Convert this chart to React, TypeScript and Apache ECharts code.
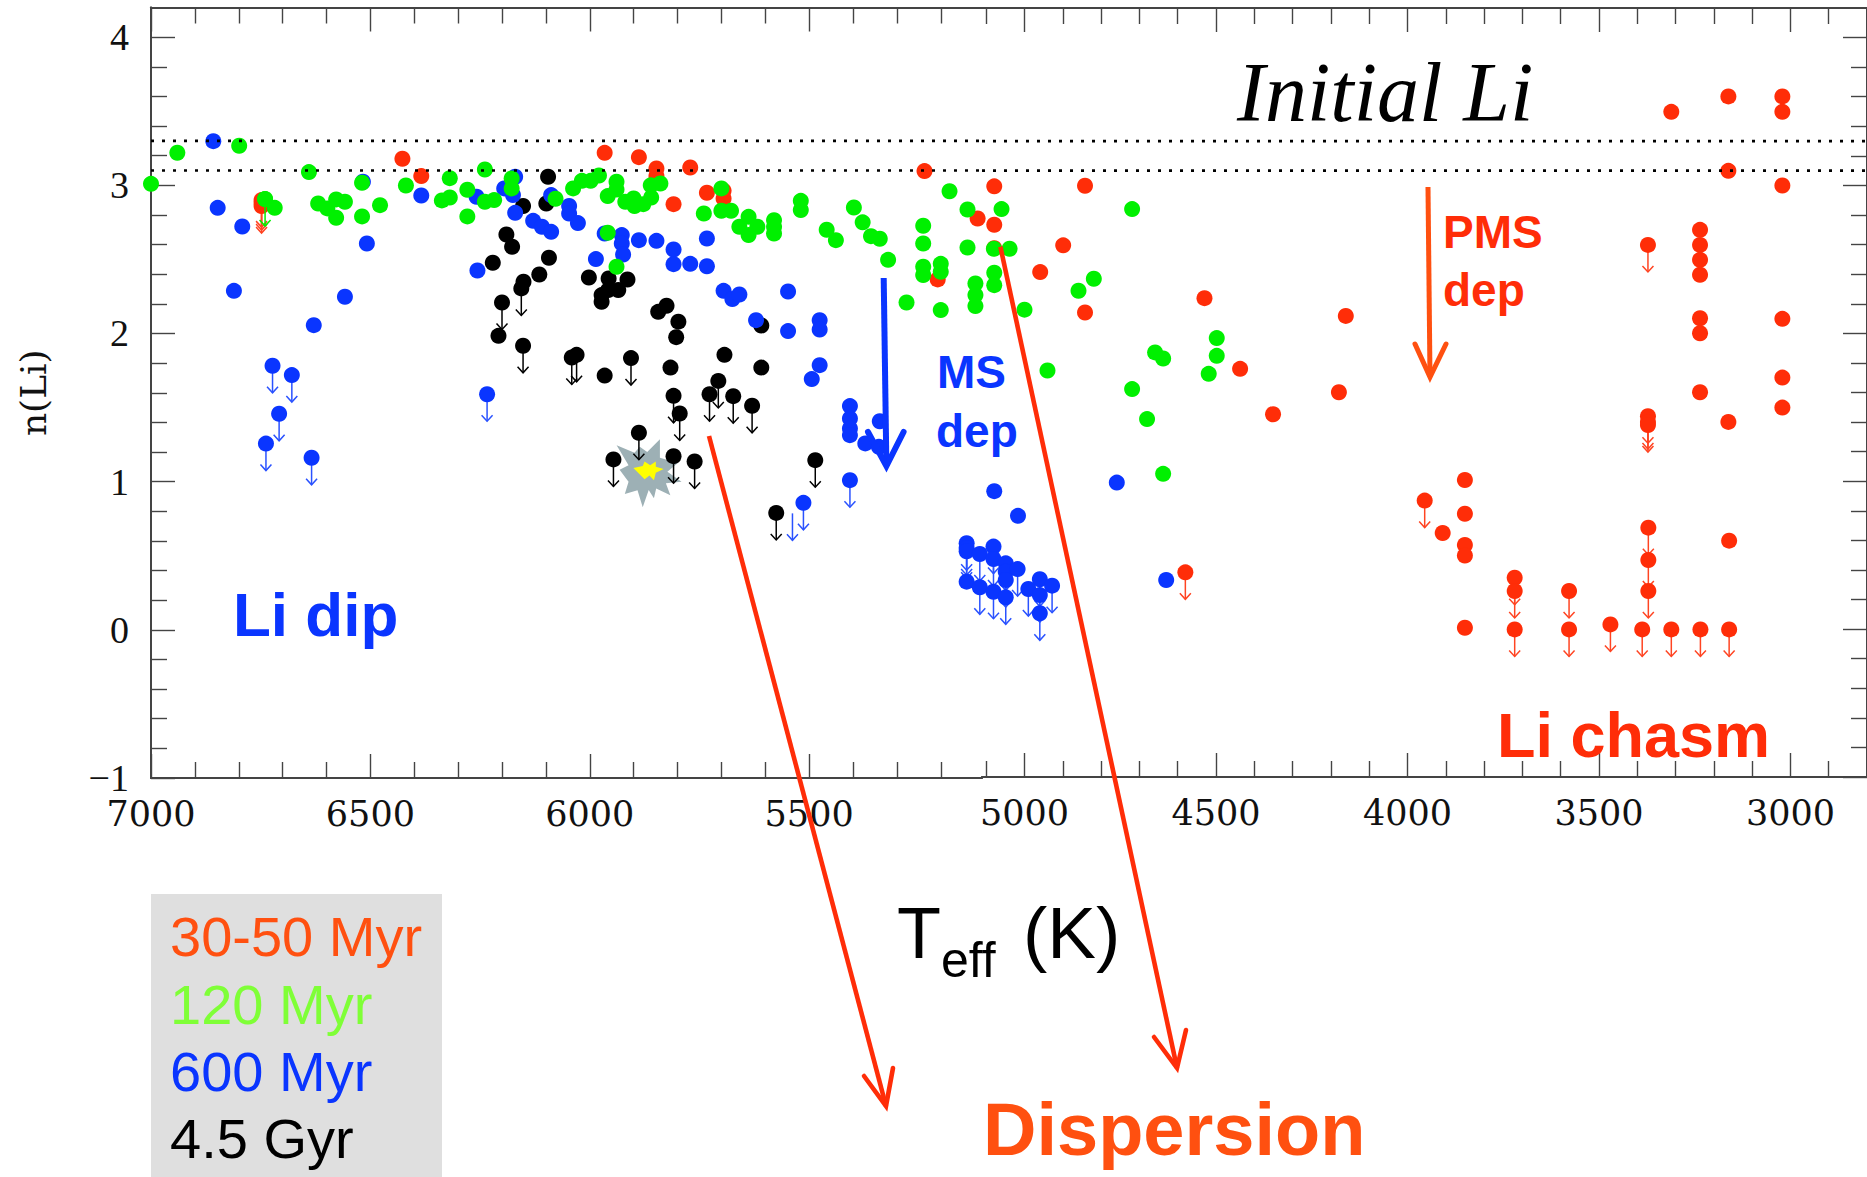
import React, { useEffect, useRef } from "react";
import * as echarts from "echarts";

type P = [number, number];

const xMajorLeft = [7000, 6500, 6000, 5500];
const xMajorRight = [5000, 4500, 4000, 3500, 3000];
const xMinorLeft = [6900, 6800, 6700, 6600, 6400, 6300, 6200, 6100, 5900, 5800, 5700, 5600, 5400, 5300, 5200];
const xMinorRight = [5100, 4900, 4800, 4700, 4600, 4400, 4300, 4200, 4100, 3900, 3800, 3700, 3600, 3400, 3300, 3200, 3100, 2900];
const yMajor = [-1, 0, 1, 2, 3, 4];
const yMinor = [-0.8, -0.6, -0.4, -0.2, 0.2, 0.4, 0.6, 0.8, 1.2, 1.4, 1.6, 1.8, 2.2, 2.4, 2.6, 2.8, 3.2, 3.4, 3.6, 3.8];
const initialLi = [3.3, 3.1];

const greenPoints: P[] = [
  [7000, 3.01], [6940, 3.22], [6799, 3.267], [6740, 2.907], [6718, 2.848], [6640, 3.089], [6619, 2.877], [6598, 2.844],
  [6578, 2.905], [6558, 2.889], [6578, 2.781], [6519, 3.017], [6519, 2.79], [6478, 2.866], [6419, 2.999], [6319, 3.048],
  [6337, 2.898], [6319, 2.918], [6279, 2.97], [6279, 2.79], [6239, 3.107], [6239, 2.889], [6218, 2.9], [6178, 3.046],
  [6178, 2.979], [6078, 2.909], [6038, 2.979], [6018, 3.03], [5998, 3.03], [5979, 3.066], [5959, 2.927], [5939, 3.024],
  [5939, 2.972], [5919, 2.889], [5900, 2.911], [5898, 2.86], [5878, 2.873], [5860, 2.918], [5861, 3.0], [5839, 3.012],
  [5959, 2.68], [5939, 2.45], [5740, 2.81], [5700, 2.979], [5700, 2.828], [5678, 2.828], [5638, 2.787], [5638, 2.664],
  [5659, 2.72], [5618, 2.72], [5580, 2.765], [5580, 2.72], [5580, 2.675], [5519, 2.895], [5519, 2.833], [5460, 2.7],
  [5439, 2.63], [5398, 2.85], [5378, 2.75], [5359, 2.657], [5339, 2.639], [5320, 2.497], [5240, 2.727], [5240, 2.607],
  [5240, 2.45], [5240, 2.394], [5200, 2.47], [5200, 2.416], [5200, 2.158], [5278, 2.209], [5180, 2.96], [5139, 2.837],
  [5139, 2.58], [5121, 2.337], [5121, 2.259], [5121, 2.185], [5060, 2.84], [5080, 2.572], [5039, 2.572], [5079, 2.41],
  [5079, 2.326], [5000, 2.16], [4940, 1.749], [4719, 2.84], [4859, 2.288], [4819, 2.369], [4659, 1.871], [4638, 1.83],
  [4498, 1.968], [4498, 1.848], [4519, 1.726], [4719, 1.623], [4680, 1.42], [4638, 1.05],
];
const greenLimits: P[] = [[6740, 2.907]];

const redPoints: P[] = [
  [6427, 3.179], [6384, 3.062], [5966, 3.219], [5888, 3.19], [5848, 3.114], [5848, 3.062], [5771, 3.12], [5733, 2.95],
  [5695, 2.963], [5695, 2.911], [5809, 2.873], [5237, 3.096], [5079, 2.994], [5116, 2.776], [5079, 2.734], [5079, 2.576],
  [5207, 2.365], [4899, 2.595], [4842, 2.998], [4959, 2.414], [4842, 2.141], [4530, 2.238], [4437, 1.76], [4351, 1.453],
  [4161, 2.118], [4179, 1.602], [3311, 3.498], [3162, 3.602], [3021, 3.602], [3021, 3.498], [3162, 3.099], [3021, 3.0],
  [3236, 2.7], [3236, 2.598], [3236, 2.497], [3236, 2.396], [3236, 2.102], [3236, 2.001], [3021, 2.098], [3021, 1.701],
  [3236, 1.602], [3021, 1.498], [3162, 1.401], [3908, 0.65], [3850, 1.008], [3850, 0.78], [3850, 0.569], [3850, 0.497],
  [3850, 0.009], [3160, 0.598],
];
const redLimits: P[] = [
  [6748, 2.9], [6748, 2.88], [6748, 2.86], [3372, 2.598], [3372, 1.44], [3372, 1.4], [3372, 1.38], [4580, 0.384],
  [3955, 0.869], [3720, 0.348], [3720, 0.258], [3720, -0.002], [3578, 0.258], [3578, -0.002], [3470, 0.032],
  [3387, -0.002], [3311, -0.002], [3235, -0.002], [3160, -0.002], [3371, 0.686], [3371, 0.467], [3371, 0.258],
];

const bluePoints: P[] = [
  [6858, 3.298], [6848, 2.848], [6792, 2.722], [6811, 2.288], [6558, 2.248], [6629, 2.056], [6508, 2.607], [6517, 3.024],
  [6384, 2.931], [6258, 2.923], [6170, 3.058], [6195, 2.979], [6175, 2.934], [6170, 2.814], [6129, 2.76], [6109, 2.72],
  [6088, 2.686], [6088, 2.934], [6047, 2.86], [6047, 2.81], [6027, 2.745], [5986, 2.502], [6256, 2.425], [5966, 2.675],
  [5927, 2.664], [5927, 2.608], [5924, 2.533], [5888, 2.63], [5848, 2.625], [5809, 2.567], [5809, 2.468], [5771, 2.47],
  [5733, 2.641], [5733, 2.454], [5695, 2.288], [5675, 2.232], [5659, 2.263], [5548, 2.283], [5621, 2.09], [5548, 2.016],
  [5476, 2.09], [5476, 2.027], [5476, 1.786], [5494, 1.692], [5407, 1.51], [5407, 1.426], [5407, 1.359], [5407, 1.314],
  [5339, 1.408], [5372, 1.258], [5341, 1.235], [5079, 0.933], [5017, 0.766], [4759, 0.991], [4630, 0.332], [5141, 0.325],
];
const blueLimits: P[] = [
  [6723, 1.782], [6679, 1.719], [6708, 1.458], [6738, 1.257], [6634, 1.161], [6234, 1.59], [5407, 1.01], [5513, 0.857],
  [5141, 0.585], [5141, 0.553], [5141, 0.53], [5111, 0.512], [5111, 0.287], [5081, 0.558], [5081, 0.474], [5081, 0.253],
  [5049, 0.445], [5049, 0.388], [5049, 0.332], [5049, 0.215], [5018, 0.406], [4990, 0.271], [4960, 0.337], [4960, 0.23],
  [4960, 0.107], [4928, 0.294],
];
const blueBareLimits: P[] = [[5538, 0.786]];

const blackPoints: P[] = [
  [6095, 3.058], [6099, 2.877], [6152, 2.86], [6190, 2.668], [6177, 2.585], [6221, 2.477], [6093, 2.511], [6115, 2.398],
  [6151, 2.349], [6208, 1.984], [5966, 1.716], [6002, 2.378], [5957, 2.371], [5914, 2.364], [5935, 2.293], [5958, 2.293],
  [5973, 2.259], [5973, 2.214], [5825, 2.187], [5844, 2.146], [5798, 2.08], [5803, 1.975], [5816, 1.77], [5693, 1.856],
  [5609, 2.054], [5609, 1.77],
];
const blackLimits: P[] = [
  [6156, 2.304], [6200, 2.209], [6152, 1.917], [6041, 1.838], [6030, 1.856], [5906, 1.834], [5809, 1.579], [5795, 1.46],
  [5727, 1.59], [5707, 1.68], [5673, 1.577], [5630, 1.512], [5486, 1.145], [5575, 0.789], [5888, 1.33], [5946, 1.15],
  [5809, 1.172], [5761, 1.136],
];

const legendNames = ["30-50 Myr", "120 Myr", "600 Myr", "4.5 Gyr"];

const C = { red: "#ff2d08", orange: "#ff5010", green: "#00f000", legendGreen: "#7fff37", blue: "#0a35ff", black: "#000000", axis: "#444444" };
const SEAM = 5108.5;
const SANS = '"Liberation Sans", Arial, sans-serif';
const SERIF = '"Liberation Serif", serif';
const DSERIF = '"DejaVu Serif", serif';

const isLeft = (p: P) => p[0] > SEAM;
const isRight = (p: P) => p[0] <= SEAM;

function xAxis(gridIndex: number, min: number, max: number, position: string, ticks: number[], length: number, labels?: number[]) {
  return {
    type: "value", gridIndex, min, max, inverse: true, position, splitLine: { show: false },
    axisLine: { show: true, onZero: false, lineStyle: { color: C.axis, width: 2 } },
    axisTick: { show: true, inside: true, length, customValues: ticks, lineStyle: { color: C.axis, width: 1.4 } },
    axisLabel: labels
      ? { show: true, customValues: labels, margin: 18, formatter: (v: number) => String(v), fontFamily: DSERIF, fontSize: 35, color: "#111" }
      : { show: false },
  };
}
function yAxis(gridIndex: number, position: string, ticks: number[], length: number, labels?: number[], named?: boolean) {
  return {
    type: "value", gridIndex, min: -1, max: 4.2, position, splitLine: { show: false },
    axisLine: { show: true, onZero: false, lineStyle: { color: C.axis, width: 2 } },
    axisTick: { show: true, inside: true, length, customValues: ticks, lineStyle: { color: C.axis, width: 1.4 } },
    axisLabel: labels
      ? { show: true, customValues: labels, margin: 22, formatter: (v: number) => String(v).replace("-", "\u2212"), fontFamily: SERIF, fontSize: 38, color: "#111" }
      : { show: false },
    ...(named
      ? { name: "n(Li)", nameLocation: "middle", nameRotate: 90, nameGap: 100, nameTextStyle: { fontFamily: DSERIF, fontSize: 36, color: "#111" } }
      : {}),
  };
}

function dots(pts: P[], color: string, z: number, grid: 0 | 1, clip = true) {
  return {
    type: "scatter", xAxisIndex: grid === 0 ? 0 : 4, yAxisIndex: grid === 0 ? 0 : 2, data: pts, z, clip,
    symbol: "circle", symbolSize: 16, itemStyle: { color, opacity: 1 }, silent: true,
  };
}
function limits(pts: P[], color: string, z: number, grid: 0 | 1) {
  return {
    type: "custom", xAxisIndex: grid === 0 ? 0 : 4, yAxisIndex: grid === 0 ? 0 : 2, data: pts, z, clip: false, silent: true,
    encode: { x: 0, y: 1 },
    renderItem: (_: any, api: any) => {
      const c = api.coord([api.value(0), api.value(1)]);
      const tip = c[1] + 27;
      return {
        type: "group",
        children: [
          { type: "line", shape: { x1: c[0], y1: c[1], x2: c[0], y2: tip }, style: { stroke: color, lineWidth: 1.5 } },
          { type: "polyline", shape: { points: [[c[0] - 5.5, tip - 6], [c[0], tip], [c[0] + 5.5, tip - 6]] }, style: { stroke: color, fill: "none", lineWidth: 1.5 } },
        ],
      };
    },
  };
}
function group(points: P[], lim: P[], color: string, limColor: string, z: number) {
  const all = points.concat(lim);
  return [
    limits(lim.filter(isLeft), limColor, z, 0),
    limits(lim.filter(isRight), limColor, z, 1),
    dots(all.filter((p) => isLeft(p) && p[0] < 7000), color, z, 0),
    dots(all.filter((p) => p[0] >= 7000), color, z, 0, false),
    dots(all.filter(isRight), color, z, 1),
  ];
}
function dotted(y: number, grid: 0 | 1, a: number, b: number) {
  return {
    type: "line", xAxisIndex: grid === 0 ? 0 : 4, yAxisIndex: grid === 0 ? 0 : 2, data: [[a, y], [b, y]], z: 7, symbol: "none", silent: true,
    lineStyle: { color: "#000", width: 2.6, type: [3, 8] },
  };
}

function label(text: string, x: number, base: number, fontSize: number, fill: string, extra: any = {}) {
  const ff = extra.fontFamily || SANS;
  return {
    type: "text", z: 20, x, y: base - fontSize * 0.3465,
    style: { text, fontSize, fontFamily: ff, fontWeight: extra.fontWeight || "normal", fontStyle: extra.fontStyle || "normal", fill, align: "left", verticalAlign: "middle" },
  };
}
function arrow(x1: number, y1: number, x2: number, y2: number, hl: number[], hr: number[], stroke: string, w: number) {
  return [
    { type: "line", z: 15, shape: { x1, y1, x2, y2 }, style: { stroke, lineWidth: w } },
    { type: "polyline", z: 15, shape: { points: [hl, [x2, y2], hr] }, style: { stroke, fill: "none", lineWidth: w, lineJoin: "miter", lineCap: "round" } },
  ];
}
const starOuter = [[60,84],[108,104],[122,88],[142,102],[176,68],[176,118],[224,132],[196,155],[234,182],[192,186],[204,218],[166,200],[160,226],[146,204],[130,250],[116,205],[82,215],[92,182],[68,150],[92,138]];
const starInner = [[105,145],[130,140],[135,128],[150,138],[165,128],[165,142],[186,148],[165,158],[160,178],[148,165],[135,175],[125,165]];
const toPage = (pts: number[][]) => pts.map(([x, y]) => [600 + (145 + (x - 145) * 1.12) / 3, 420 + (155 + (y - 155) * 1.12) / 3]);

export default function App() {
  const ref = useRef<HTMLDivElement>(null);
  useEffect(() => {
    const chart = echarts.init(ref.current!, undefined, { renderer: "svg" });
    const lMin = 5106, lMax = 7000, rMin = 2800, rMax = 5111;
    chart.setOption({
      animation: false,
      backgroundColor: "#ffffff",
      tooltip: { show: false },
      grid: [
        { left: 151, top: 7.5, width: 831, height: 770.5 },
        { left: 982, top: 8, width: 885.6, height: 769 },
      ],
      xAxis: [
        xAxis(0, lMin, lMax, "bottom", xMajorLeft, 24, xMajorLeft),
        xAxis(0, lMin, lMax, "bottom", xMinorLeft, 16),
        xAxis(0, lMin, lMax, "top", xMajorLeft, 24),
        xAxis(0, lMin, lMax, "top", xMinorLeft, 16),
        xAxis(1, rMin, rMax, "bottom", xMajorRight, 24, xMajorRight),
        xAxis(1, rMin, rMax, "bottom", xMinorRight, 16),
        xAxis(1, rMin, rMax, "top", xMajorRight, 24),
        xAxis(1, rMin, rMax, "top", xMinorRight, 16),
      ],
      yAxis: [
        yAxis(0, "left", yMajor, 24, yMajor, true),
        yAxis(0, "left", yMinor, 16),
        yAxis(1, "right", yMajor, 24),
        yAxis(1, "right", yMinor, 16),
      ],
      series: [
        ...group(blackPoints, blackLimits, C.black, C.black, 3),
        ...group(bluePoints, blueLimits, C.blue, "#2a52ff", 4),
        limits(blueBareLimits, "#2a52ff", 4, 0),
        ...group(redPoints, redLimits, C.red, "#ff4422", 5),
        ...group(greenPoints, greenLimits, C.green, C.green, 6),
        ...initialLi.flatMap((v) => [dotted(v, 0, lMax, lMin), dotted(v, 1, rMax, rMin)]),
      ],
      graphic: {
        elements: [
          { type: "polygon", z: 1, shape: { points: toPage(starOuter) }, style: { fill: "#9db0b5" } },
          { type: "polygon", z: 1, shape: { points: toPage(starInner) }, style: { fill: "#ffff00" } },
          ...arrow(709, 436, 886, 1106, [864, 1076], [893, 1068], C.red, 4.6),
          ...arrow(1000.4, 246.7, 1177, 1068, [1154, 1037], [1186, 1030], C.red, 4.6),
          ...arrow(883.7, 278, 886.4, 466, [868, 432], [903.6, 432], C.blue, 6),
          ...arrow(1428, 187, 1430, 377, [1415, 344], [1446, 344], C.orange, 5),
          { type: "rect", z: 10, shape: { x: 151, y: 894, width: 291, height: 283 }, style: { fill: "#dfdfdf" } },
          label(legendNames[0], 170, 956, 56, C.orange),
          label(legendNames[1], 170, 1024, 56, C.legendGreen),
          label(legendNames[2], 170, 1091, 56, C.blue),
          label(legendNames[3], 170, 1158, 56, C.black),
          label("T", 897, 958, 72, C.black),
          label("eff", 941, 977, 50, C.black),
          label("(K)", 1023, 958, 73, C.black),
          label("Dispersion", 983, 1155, 74, C.orange, { fontWeight: "bold" }),
          label("Li dip", 233, 636, 62, C.blue, { fontWeight: "bold" }),
          label("Li chasm", 1497, 757, 63, C.red, { fontWeight: "bold" }),
          label("MS", 937, 388, 46, C.blue, { fontWeight: "bold" }),
          label("dep", 936, 447, 46, C.blue, { fontWeight: "bold" }),
          label("PMS", 1443, 248, 46, C.red, { fontWeight: "bold" }),
          label("dep", 1443, 306, 46, C.red, { fontWeight: "bold" }),
          label("Initial Li", 1237, 121.5, 84, C.black, { fontFamily: SERIF, fontStyle: "italic" }),
        ],
      },
    });
    return () => chart.dispose();
  }, []);
  return <div ref={ref} style={{ position: "absolute", left: 0, top: 0, width: 1867, height: 1177 }} />;
}
